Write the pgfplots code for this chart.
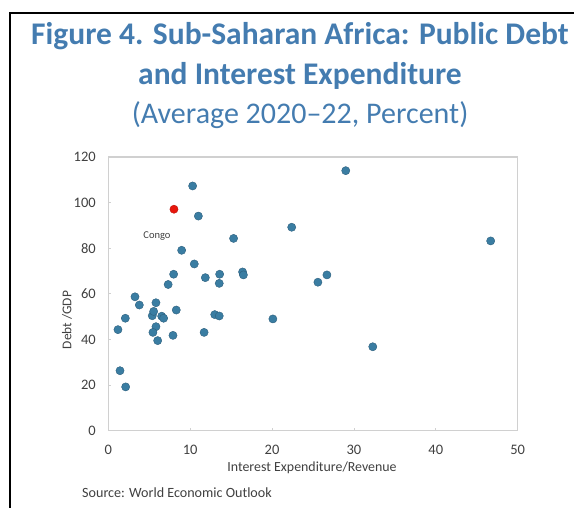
\documentclass[border=0pt]{standalone}
\usepackage{fontspec}
\setmainfont{Carlito}
\usepackage{pgfplots}
\pgfplotsset{compat=1.18}
\definecolor{titleblue}{RGB}{68,124,176}
\definecolor{dotblue}{RGB}{58,125,162}
\definecolor{dotedge}{RGB}{45,95,125}
\definecolor{congored}{RGB}{232,22,12}
\definecolor{axgray}{RGB}{208,208,208}
\definecolor{txt}{RGB}{64,64,64}
\pgfplotstableread{
x y
1.18 44.3
1.43 26.3
2.08 49.3
2.12 19.2
3.26 58.7
3.79 55.1
5.37 50.4
5.54 52.3
5.82 56.1
5.82 45.6
5.45 43.1
6.03 39.5
6.52 50.2
6.76 49.3
7.31 64.1
7.90 41.8
7.98 68.6
8.30 52.9
8.96 79.1
10.3 107.3
10.5 73.1
11.0 94.1
11.7 43.1
11.85 67.1
13.0 50.9
13.55 50.3
13.6 68.6
13.55 64.6
15.3 84.3
16.4 69.6
16.5 68.3
20.1 49.0
22.4 89.2
25.6 65.1
26.7 68.3
29.0 114.0
32.3 36.8
46.7 83.2
}\others
\pgfplotstableread{
x y
8.02 97.1
}\congo
\begin{document}
\begin{tikzpicture}[x=1pt,y=1pt]
\useasboundingbox (0,0) rectangle (574,508);
% frame
\draw[black,line width=2pt] (10,0) -- (10,495) -- (574,495);
% titles
\node[anchor=base,text=titleblue,font=\fontsize{31.5}{33}\selectfont\bfseries] at (300,508-45) {Figure 4. Sub-Saharan Africa: Public Debt};
\node[anchor=base,text=titleblue,font=\fontsize{31.5}{33}\selectfont\bfseries] at (300,508-85) {and Interest Expenditure};
\node[anchor=base,text=titleblue,font=\fontsize{30}{32}\selectfont] at (300,508-124) {(Average 2020--22, Percent)};
\begin{axis}[
  at={(108.3pt,77.3pt)}, anchor=south west,
  width=409.4pt, height=273.7pt, scale only axis,
  xmin=0, xmax=50, ymin=0, ymax=120,
  xtick={0,10,...,50}, ytick={0,20,...,120},
  xtick pos=lower, ytick pos=left,
  tick align=inside, major tick length=3pt,
  axis line style={axgray,line width=1.3pt},
  tick style={axgray,line width=0.8pt},
  /pgf/number format/assume math mode=true,
  tick label style={font=\fontsize{14.5}{16}\selectfont, text=txt},
  xticklabel style={yshift=-11pt},
  yticklabel style={xshift=-9pt},
  clip=false,
]
\addplot[only marks, mark=*, mark size=4.1pt, mark options={fill=dotblue, draw=dotedge, line width=0.4pt}] table[x=x,y=y] {\others};
\addplot[only marks, mark=*, mark size=4.1pt, mark options={fill=congored, draw=congored!80!black, line width=0.4pt}] table[x=x,y=y] {\congo};
\end{axis}
\node[text=txt,font=\fontsize{10.5}{12}\selectfont] at (157,508-236) {Congo};
\node[text=txt,font=\fontsize{13.4}{15}\selectfont,rotate=90] at (67,508-320) {Debt /GDP};
\node[text=txt,font=\fontsize{13.9}{15}\selectfont] at (312,508-468) {Interest Expenditure/Revenue};
\node[anchor=west,text=txt,font=\fontsize{14.1}{15}\selectfont,inner sep=0pt] at (82,508-493) {Source: World Economic Outlook};
\end{tikzpicture}
\end{document}
